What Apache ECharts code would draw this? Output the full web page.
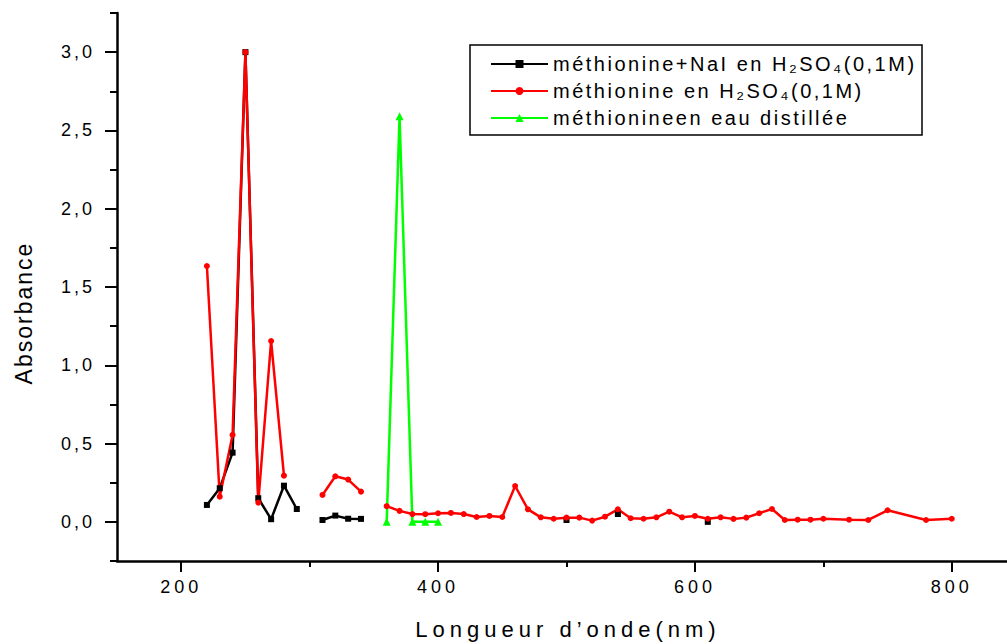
<!DOCTYPE html>
<html>
<head>
<meta charset="utf-8">
<script src="https://cdn.jsdelivr.net/npm/echarts@6/dist/echarts.min.js"></script>
<style>
html,body{margin:0;padding:0;background:#fff;}
#chart{width:1007px;height:644px;}
</style>
</head>
<body>
<div id="chart"></div>
<script>
// ---- data ----
const seriesNames = ['méthionine+NaI en H₂SO₄(0,1M)', 'méthionine en H₂SO₄(0,1M)', 'méthionineen eau distillée'];

const blackX = [220, 230, 240, 250, 260, 270, 280, 290, 300, 310, 320, 330, 340, 350, 500, 520, 540, 560, 610];
const blackY = [0.108, 0.215, 0.442, 3.0, 0.151, 0.017, 0.231, 0.082, null, 0.012, 0.04, 0.02, 0.019, null, 0.012, null, 0.05, null, 0.0];

const redX = [220, 230, 240, 250, 260, 270, 280, 295, 310, 320, 330, 340, 350,
  360, 370, 380, 390, 400, 410, 420, 430, 440, 450, 460, 470, 480, 490, 500, 510, 520, 530, 540, 550,
  560, 570, 580, 590, 600, 610, 620, 630, 640, 650, 660, 670, 680, 690, 700, 720, 735, 750, 780, 800];
const redY = [1.634, 0.161, 0.555, 3.0, 0.123, 1.155, 0.295, null, 0.172, 0.291, 0.27, 0.193, null,
  0.10, 0.07, 0.05, 0.049, 0.055, 0.057, 0.05, 0.031, 0.038, 0.031, 0.229, 0.08, 0.029, 0.02, 0.027, 0.027, 0.008, 0.033, 0.08, 0.023,
  0.02, 0.029, 0.065, 0.029, 0.038, 0.02, 0.029, 0.019, 0.027, 0.055, 0.082, 0.012, 0.014, 0.014, 0.02, 0.014, 0.012, 0.074, 0.012, 0.02];

const greenX = [360, 370, 380, 390, 400];
const greenY = [0.0, 2.59, 0.0, 0.0, 0.0];

const xMajorTicks = [200, 400, 600, 800];
const xMinorTicks = [300, 500, 700];
const yMajorTicks = [0, 0.5, 1.0, 1.5, 2.0, 2.5, 3.0];
const yMinorTicks = [-0.25, 0.25, 0.75, 1.25, 1.75, 2.25, 2.75, 3.25];

const xTitle = 'Longueur d’onde(nm)';
const yTitle = 'Absorbance';

// ---- build ----
function pairs(xs, ys) {
  return xs.map((x, i) => [x, ys[i] === null ? '-' : ys[i]]);
}
const FONT = 'Liberation Sans, Arial, sans-serif';

const chart = echarts.init(document.getElementById('chart'), null, {renderer: 'svg'});

const option = {
  animation: false,
  backgroundColor: '#fff',
  grid: {left: 117, right: 0, top: 13, bottom: 83, containLabel: false},
  xAxis: [{
    type: 'value', min: 150, max: 843, position: 'bottom',
    axisLine: {show: true, onZero: false, lineStyle: {color: '#000', width: 2.5}},
    axisTick: {show: true, customValues: xMajorTicks, length: 11, inside: false, lineStyle: {color: '#000', width: 2}},
    axisLabel: {show: true, customValues: xMajorTicks, margin: 17, color: '#000', fontSize: 18, fontFamily: FONT},
    splitLine: {show: false}
  }, {
    type: 'value', min: 150, max: 843, position: 'bottom',
    axisLine: {show: false, onZero: false},
    axisTick: {show: true, customValues: xMinorTicks, length: 6, lineStyle: {color: '#000', width: 2}},
    axisLabel: {show: false},
    splitLine: {show: false}
  }],
  yAxis: [{
    type: 'value', min: -0.25, max: 3.25, position: 'left',
    axisLine: {show: true, onZero: false, lineStyle: {color: '#000', width: 2.5}},
    axisTick: {show: true, customValues: yMajorTicks, length: 12, lineStyle: {color: '#000', width: 2}},
    axisLabel: {show: true, customValues: yMajorTicks, margin: 22, color: '#000', fontSize: 18, fontFamily: FONT,
      formatter: v => v.toFixed(1).replace('.', ',')},
    splitLine: {show: false}
  }, {
    type: 'value', min: -0.25, max: 3.25, position: 'left',
    axisLine: {show: false, onZero: false},
    axisTick: {show: true, customValues: yMinorTicks, length: 7, lineStyle: {color: '#000', width: 2}},
    axisLabel: {show: false},
    splitLine: {show: false}
  }],
  legend: {
    orient: 'vertical', left: 485, top: 49,
    itemWidth: 57, itemHeight: 10, itemGap: 7,
    data: seriesNames,
    textStyle: {color: '#000', fontSize: 20, fontFamily: FONT},
    selectedMode: false
  },
  graphic: [
    {type: 'rect', shape: {x: 470, y: 45, width: 452, height: 90},
      style: {fill: 'none', stroke: '#000', lineWidth: 1.5}, z: 100},
    {type: 'text', x: 568, y: 629, rotation: 0,
      style: {text: xTitle, fill: '#000', font: '22px ' + FONT, textAlign: 'center', textVerticalAlign: 'middle'}},
    {type: 'text', x: 24, y: 313, rotation: Math.PI / 2,
      style: {text: yTitle, fill: '#000', font: '23px ' + FONT, textAlign: 'center', textVerticalAlign: 'middle'}}
  ],
  series: [{
    name: seriesNames[0], type: 'line', data: pairs(blackX, blackY),
    symbol: 'rect', symbolSize: 6, showAllSymbol: true, connectNulls: false,
    itemStyle: {color: '#000'}, lineStyle: {color: '#000', width: 2.5}
  }, {
    name: seriesNames[1], type: 'line', data: pairs(redX, redY),
    symbol: 'circle', symbolSize: 6, showAllSymbol: true, connectNulls: false,
    itemStyle: {color: '#ff0000'}, lineStyle: {color: '#ff0000', width: 2.5}
  }, {
    name: seriesNames[2], type: 'line', data: pairs(greenX, greenY),
    symbol: 'triangle', symbolSize: 8, showAllSymbol: true, connectNulls: false,
    itemStyle: {color: '#00ff00'}, lineStyle: {color: '#00ff00', width: 2.5}
  }]
};

chart.setOption(option);

function applySpacing() {
  document.querySelectorAll('#chart svg text').forEach(t => {
    const s = t.textContent;
    let ls = null;
    if (/^\d,\d$/.test(s)) ls = '3px';
    else if (/^\d00$/.test(s)) ls = '4px';
    else if (s === yTitle) ls = '2px';
    else if (s === xTitle) ls = '5px';
    else if (s.indexOf('méthionine') === 0) ls = '2.5px';
    if (ls) t.style.letterSpacing = ls;
  });
}
applySpacing();
chart.on('finished', applySpacing);
</script>
</body>
</html>
